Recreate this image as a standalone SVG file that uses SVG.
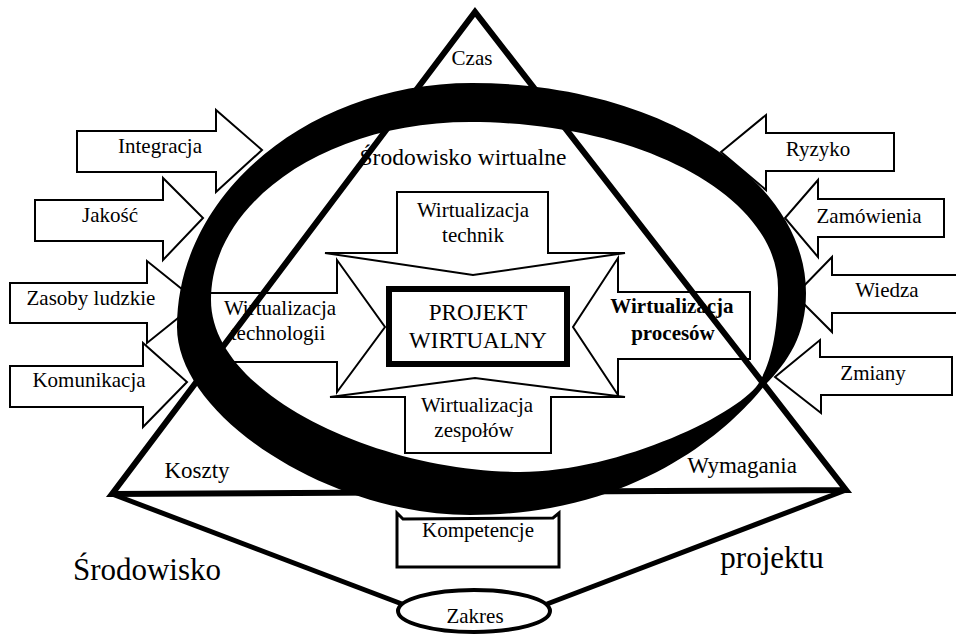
<svg xmlns="http://www.w3.org/2000/svg" width="956" height="634" viewBox="0 0 956 634">
<style>
text{font-family:"Liberation Serif","Times New Roman",serif;font-size:21px;fill:#000;text-anchor:middle}
.big{font-size:23px}
.huge{font-size:31px}
.bold{font-weight:bold}
.arr{fill:#fff;stroke:#000;stroke-width:2;stroke-linejoin:miter}
.ring{fill:#000;fill-rule:evenodd;stroke:none}
.tri{fill:none;stroke:#000;stroke-width:6;stroke-linejoin:miter}
.conn{fill:none;stroke:#000;stroke-width:5}
</style>
<rect width="956" height="634" fill="#fff"/>

<g id="integracja"><path class="arr" d="M77,131 L216,131 L216,110 L262,150 L216,192 L216,172 L77,172 Z"/><text x="160" y="153">Integracja</text></g>
<g id="jakosc"><path class="arr" d="M35,200 L163,200 L163,178 L203,218 L163,260 L163,241 L35,241 Z"/><text x="110" y="222">Jakość</text></g>
<g id="zasoby"><path class="arr" d="M10,283 L147,283 L147,261 L198,302 L147,343 L147,323 L10,323 Z"/><text x="91" y="305">Zasoby ludzkie</text></g>
<g id="komunikacja"><path class="arr" d="M10,366 L143,366 L143,343 L187,382 L143,427 L143,407 L10,407 Z"/><text x="89" y="387">Komunikacja</text></g>

<g id="ryzyko"><path class="arr" d="M894,133 L766,133 L766,115 L721,152 L766,190 L766,171 L894,171 Z"/><text x="818" y="156">Ryzyko</text></g>
<g id="zamowienia"><path class="arr" d="M944,199 L818,199 L818,180 L785,218 L818,257 L818,237 L944,237 Z"/><text x="869" y="223">Zamówienia</text></g>
<g id="wiedza"><path class="arr" d="M960,275 L832,275 L832,257 L795,295 L832,332 L832,313 L960,313 Z"/><text x="887" y="297">Wiedza</text></g>
<g id="zmiany"><path class="arr" d="M952,357 L820,357 L820,340 L775,377 L821,413 L821,395 L952,395 Z"/><text x="873" y="380">Zmiany</text></g>

<g id="technologii"><path class="arr" d="M200,293 L337,293 L337,260 L385,327 L337,392 L337,362 L200,362 Z"/><text x="280" y="315">Wirtualizacja</text><text x="278" y="340">technologii</text></g>
<g id="procesow"><path class="arr" d="M750,292 L618,292 L618,258 L573,327 L618,395 L618,359 L750,359 Z"/><text class="bold" x="672" y="313">Wirtualizacja</text><text class="bold" x="673" y="340">procesów</text></g>
<g id="technik"><path class="arr" d="M397,192 L548,192 L548,253 L625,253 L473,275 L325,253 L397,253 Z"/><text x="473" y="217">Wirtualizacja</text><text x="473" y="242">technik</text></g>
<g id="zespolow"><path class="arr" d="M405,453 L551,453 L551,397 L625,397 L475,378 L330,397 L405,397 Z"/><text x="477" y="412">Wirtualizacja</text><text x="474" y="437">zespołów</text></g>

<g id="projekt"><rect x="389" y="289" width="178" height="75" fill="#fff" stroke="#000" stroke-width="6"/><text class="big" x="478" y="320">PROJEKT</text><text class="big" x="478" y="348">WIRTUALNY</text></g>

<g id="kompetencje"><path d="M397,513 L403,519 L553,518 L559,513 L559,567 L397,567 Z" fill="#fff" stroke="#000" stroke-width="3"/><text x="478" y="537">Kompetencje</text></g>

<g id="srodowisko-wirtualne">
<path class="ring" d="M472,83 C656.5,83 806,177 806,293 C806,335 788,362 765,385 C745,410 655,515 470,515 C330,515 177,417 177,327 C177,193 310,83 472,83 Z M470,122 C639,122 778,195 778,288 C778,330 772,360 760,381 C744,412 620,472 520,472 C380,472 211,395 211,300 C211,202 327,122 470,122 Z"/>
<text x="463" y="165" style="font-size:23.5px">Środowisko wirtualne</text>
</g>

<g id="trojkat">
<path class="tri" d="M112,494 L475,12 L846,490 Z"/>
<text x="472" y="65">Czas</text>
<text class="big" x="197" y="478">Koszty</text>
<text class="big" x="742" y="473">Wymagania</text>
</g>

<g id="connectors">
<line class="conn" x1="112" y1="494" x2="402" y2="604"/>
<line class="conn" x1="846" y1="490" x2="547" y2="604"/>
</g>

<g id="zakres"><ellipse cx="474" cy="611" rx="76" ry="21" fill="#fff" stroke="#000" stroke-width="4"/><text x="475" y="623">Zakres</text></g>

<g id="labels">
<text class="huge" x="147" y="580">Środowisko</text>
<text class="huge" x="772" y="568">projektu</text>
</g>
</svg>
